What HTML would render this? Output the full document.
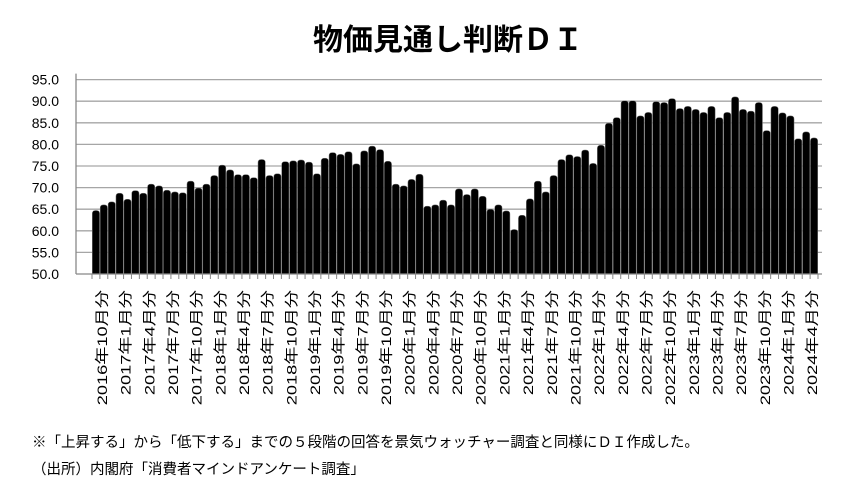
<!DOCTYPE html>
<html><head><meta charset="utf-8"><style>
html,body{margin:0;padding:0;background:#fff;width:847px;height:487px;overflow:hidden}
svg{display:block;font-family:"Liberation Sans","Noto Sans CJK JP",sans-serif}
</style></head><body>
<svg id="chart" width="847" height="487">
<text x="448" y="50" text-anchor="middle" font-size="30" font-weight="bold">物価見通し判断ＤＩ</text>
<g id="grid"></g><g id="bars"></g><g id="axes"></g>
<text x="32" y="447" font-size="14.5">※「上昇する」から「低下する」までの５段階の回答を景気ウォッチャー調査と同様にＤＩ作成した。</text>
<text x="32" y="474" font-size="14.5">（出所）内閣府「消費者マインドアンケート調査」</text>
</svg>
<script>
const values=[64.7,66.0,66.7,68.7,67.3,69.3,68.7,70.8,70.4,69.4,69.0,68.8,71.5,69.9,70.8,72.8,75.2,74.1,73.0,73.0,72.3,76.5,72.8,73.2,76.0,76.2,76.4,75.9,73.2,76.8,78.1,77.7,78.3,75.5,78.5,79.6,78.8,76.1,70.8,70.4,71.9,73.1,65.7,66.0,67.1,66.0,69.7,68.4,69.7,68.0,65.0,66.0,64.6,60.3,63.6,67.4,71.5,69.0,72.8,76.5,77.6,77.2,78.7,75.6,79.8,84.9,86.2,90.1,90.1,86.6,87.4,89.9,89.7,90.6,88.3,88.8,88.1,87.4,88.8,86.2,87.4,91.0,88.1,87.7,89.7,83.2,88.8,87.3,86.6,81.3,82.9,81.5];
const startYear=2016,startMonth=10;
const yTicks=[50,55,60,65,70,75,80,85,90,95];
const NS="http://www.w3.org/2000/svg";
const X0=76,X1=822,BX0=92,BX1=818,Y0=274,Y1=79.6,VMIN=50,VMAX=95;
const pitch=(BX1-BX0)/values.length;
const y=v=>Y0-(v-VMIN)/(VMAX-VMIN)*(Y0-Y1);
const xc=i=>BX0+pitch*(i+0.5);
function mk(t,a,p){const e=document.createElementNS(NS,t);for(const k in a)e.setAttribute(k,a[k]);p.appendChild(e);return e;}
const grid=document.getElementById('grid'),bars=document.getElementById('bars'),axes=document.getElementById('axes');
yTicks.forEach(t=>{
  if(t>VMIN){const l=mk('line',{x1:X0,x2:X1,y1:y(t),y2:y(t),stroke:'#a6a6a6','stroke-width':1.3},grid);
  
  }
  const tx=mk('text',{x:59,y:y(t)+5,'text-anchor':'end','font-size':14},axes);tx.textContent=t.toFixed(1);
  
  
});
values.forEach((v,i)=>{
  const w=pitch-0.6,x=xc(i)-w/2,top=y(v);
  const p=mk('path',{d:`M${x},${Y0} L${x},${top+3} Q${x},${top} ${x+3},${top} L${x+w-3},${top} Q${x+w},${top} ${x+w},${top+3} L${x+w},${Y0} Z`,fill:'#000',stroke:'#777','stroke-width':0.5},bars);
  
  
});
const ax=mk('line',{x1:X0,x2:X0,y1:Y1-6,y2:Y0,stroke:'#888','stroke-width':1.3},axes);


const bx=mk('line',{x1:X0,x2:X1,y1:Y0,y2:Y0,stroke:'#888','stroke-width':1.3},axes);


for(let i=0;i<=values.length;i++){const tk=mk('line',{x1:BX0+pitch*i,x2:BX0+pitch*i,y1:Y0,y2:Y0+5,stroke:'#888'},axes);
  
  }
for(let i=0;i<values.length;i+=3){
  const m=(startMonth-1+i)%12+1,yr=startYear+Math.floor((startMonth-1+i)/12);
  const lx=xc(i)+11;
  const tx=mk('text',{x:0,y:0,'text-anchor':'end','font-size':14,transform:`translate(${lx},290) rotate(-90) scale(1.3,1)`},axes);
  tx.textContent=yr+'年'+m+'月分';
  
  
}
</script>
</body></html>
